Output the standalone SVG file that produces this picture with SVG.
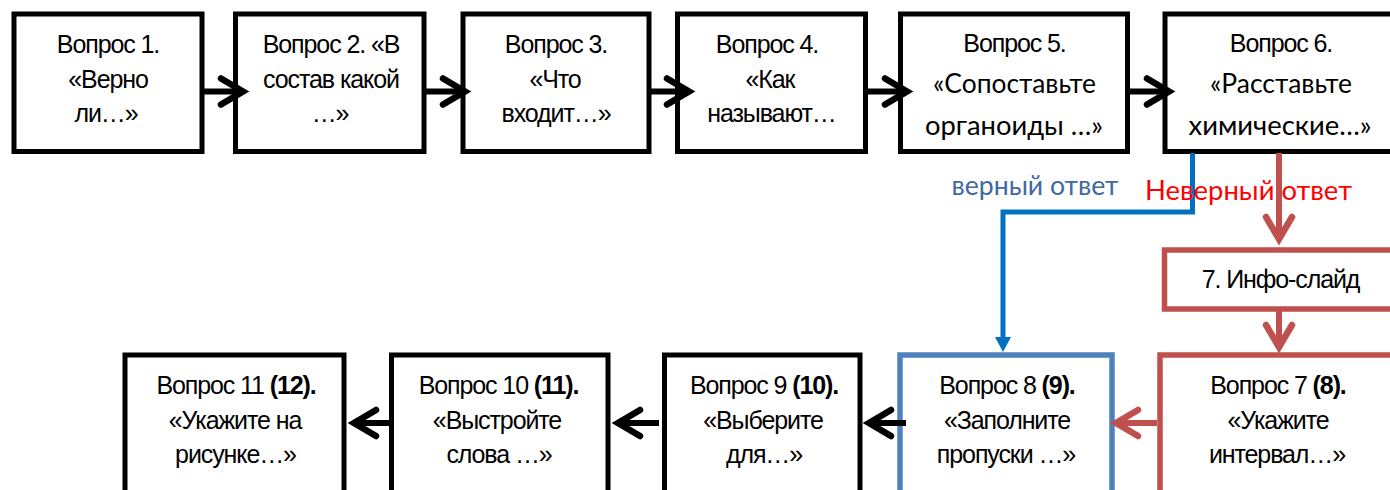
<svg xmlns="http://www.w3.org/2000/svg" width="1390" height="490" viewBox="0 0 1390 490">
<style>
.box{fill:#fff;stroke:#000;stroke-width:5}
.blue{stroke:#4F81BD;stroke-width:5.5}
.red{stroke:#C0504D;stroke-width:5.5}
.t{font-family:"Liberation Sans",Arial,sans-serif;font-size:25px;letter-spacing:-1.1px;text-anchor:middle;fill:#000}
.c{font-family:Lato,"Open Sans",sans-serif;font-size:26px;fill:#000}
.b{font-weight:bold}
.k{stroke:#000;stroke-width:6;fill:none}
.r{stroke:#C0504D;stroke-width:6;fill:none}
.u{stroke:#0070C0;stroke-width:5;fill:none}
</style>
<defs>
<marker id="chk" markerUnits="userSpaceOnUse" viewBox="-32 -20 44 40" markerWidth="44" markerHeight="40" refX="0" refY="0" orient="auto">
<path d="M-22,-13 L0,0 L-22,13" fill="none" stroke="#000" stroke-width="6.5" stroke-linecap="round" stroke-linejoin="miter"/>
</marker>
<marker id="chr" markerUnits="userSpaceOnUse" viewBox="-32 -20 44 40" markerWidth="44" markerHeight="40" refX="0" refY="0" orient="auto">
<path d="M-22,-13 L0,0 L-22,13" fill="none" stroke="#C0504D" stroke-width="6.5" stroke-linecap="round" stroke-linejoin="miter"/>
</marker>
<marker id="tri" markerUnits="userSpaceOnUse" viewBox="-20 -10 34 20" markerWidth="34" markerHeight="20" refX="-12" refY="0" orient="auto">
<path d="M-15,-8 L0,0 L-15,8 Z" fill="#0070C0"/>
</marker>
</defs>

<g id="q1"><rect class="box" x="14" y="14" width="188" height="137.5"/>
<text class="t" x="108" y="53">Вопрос 1.</text><text class="t" x="108" y="87.5">«Верно</text><text class="t" x="106" y="122">ли…»</text></g>
<g id="q2"><rect class="box" x="235.5" y="14" width="188.5" height="137.5"/>
<text class="t" x="331" y="53">Вопрос 2. «В</text><text class="t" x="331" y="87.5">состав какой</text><text class="t" x="330" y="122">…»</text></g>
<g id="q3"><rect class="box" x="463" y="14" width="186" height="137.5"/>
<text class="t" x="556" y="53">Вопрос 3.</text><text class="t" x="555" y="87.5">«Что</text><text class="t" x="556" y="122">входит…»</text></g>
<g id="q4"><rect class="box" x="677.5" y="14" width="188" height="137.5"/>
<text class="t" x="767" y="53">Вопрос 4.</text><text class="t" x="770" y="87.5">«Как</text><text class="t" x="771.5" y="122">называют…</text></g>
<g id="q5"><rect class="box" x="900.5" y="14" width="227" height="137.5"/>
<text class="t" x="1014.5" y="52">Вопрос 5.</text>
<text class="c" x="933" y="93" textLength="163" lengthAdjust="spacingAndGlyphs">«Сопоставьте</text>
<text class="c" x="925" y="135" textLength="178" lengthAdjust="spacingAndGlyphs">органоиды …»</text></g>
<g id="q6"><rect class="box" x="1165" y="14" width="232" height="137.5"/>
<text class="t" x="1281" y="52">Вопрос 6.</text>
<text class="c" x="1210" y="93" textLength="142" lengthAdjust="spacingAndGlyphs">«Расставьте</text>
<text class="c" x="1188.5" y="135" textLength="183" lengthAdjust="spacingAndGlyphs">химические…»</text></g>
<g id="info"><rect class="box red" x="1164.5" y="250" width="233" height="59"/>
<text class="t" x="1280.5" y="288">7. Инфо-слайд</text></g>
<g id="q7"><rect class="box red" x="1160" y="355" width="237" height="150"/>
<text class="t" x="1278" y="394">Вопрос 7 <tspan class="b">(8).</tspan></text><text class="t" x="1278" y="428.5">«Укажите</text><text class="t" x="1277" y="463">интервал…»</text></g>
<g id="q8"><rect class="box blue" x="900" y="355" width="212" height="150"/>
<text class="t" x="1007" y="394">Вопрос 8 <tspan class="b">(9).</tspan></text><text class="t" x="1007" y="428.5">«Заполните</text><text class="t" x="1006" y="463">пропуски …»</text></g>
<g id="q9"><rect class="box" x="664.5" y="355" width="195.5" height="150"/>
<text class="t" x="764" y="394">Вопрос 9 <tspan class="b">(10).</tspan></text><text class="t" x="763" y="428.5">«Выберите</text><text class="t" x="764" y="463">для…»</text></g>
<g id="q10"><rect class="box" x="391.5" y="355" width="216.5" height="150"/>
<text class="t" x="498.5" y="394">Вопрос 10 <tspan class="b">(11).</tspan></text><text class="t" x="497" y="428.5">«Выстройте</text><text class="t" x="499" y="463">слова …»</text></g>
<g id="q11"><rect class="box" x="125" y="355" width="219" height="150"/>
<text class="t" x="236" y="394">Вопрос 11 <tspan class="b">(12).</tspan></text><text class="t" x="235" y="428.5">«Укажите на</text><text class="t" x="235.5" y="463">рисунке…»</text></g>

<g id="connectors">
<path class="k" d="M202,91.5 H243" marker-end="url(#chk)"/>
<path class="k" d="M424,91.5 H465" marker-end="url(#chk)"/>
<path class="k" d="M649,91.5 H689" marker-end="url(#chk)"/>
<path class="k" d="M865.5,91.5 H907" marker-end="url(#chk)"/>
<path class="k" d="M1127.5,91.5 H1169" marker-end="url(#chk)"/>
<path class="u" d="M1192.5,153 V212 H1003 V340" marker-end="url(#tri)"/>
<path class="r" d="M1279,153 V239" marker-end="url(#chr)"/>
<path class="r" d="M1279,311 V347" marker-end="url(#chr)"/>
<path class="r" d="M1157,423 H1116" marker-end="url(#chr)"/>
<path class="k" d="M906,423 H869" marker-end="url(#chk)"/>
<path class="k" d="M659,423 H618" marker-end="url(#chk)"/>
<path class="k" d="M391.5,423 H354" marker-end="url(#chk)"/>
</g>
<g id="labels">
<text class="c" x="951.5" y="195" textLength="167" lengthAdjust="spacingAndGlyphs" fill="#40699F" style="fill:#40699F">верный ответ</text>
<text class="c" x="1145" y="200" textLength="207" lengthAdjust="spacingAndGlyphs" style="fill:#FF0000">Неверный  ответ</text>
</g>
</svg>
